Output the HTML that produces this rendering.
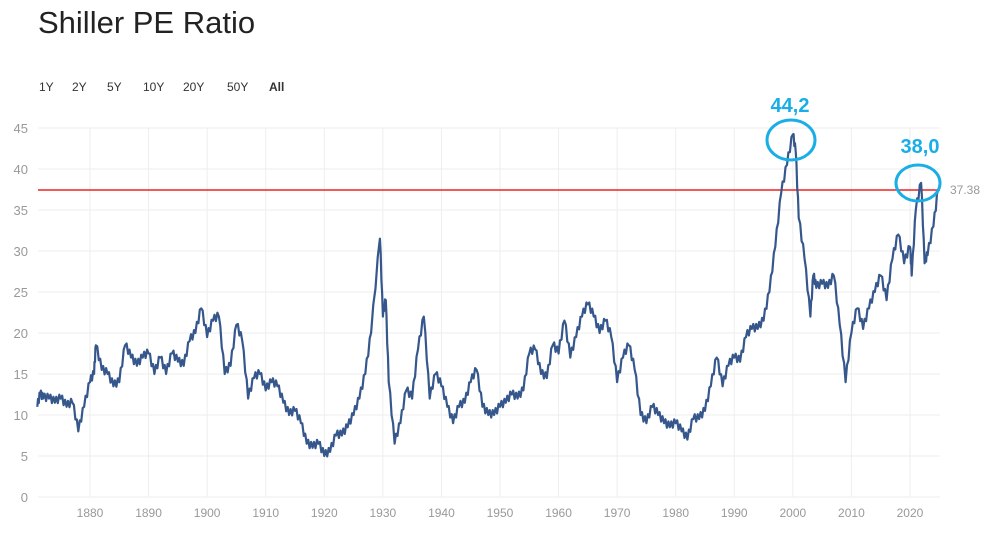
<!DOCTYPE html>
<html><head><meta charset="utf-8">
<style>
body{margin:0;background:#fff;width:1000px;height:539px;overflow:hidden;font-family:"Liberation Sans",sans-serif}
</style></head><body>
<svg id="s" width="1000" height="539" xmlns="http://www.w3.org/2000/svg" font-family="Liberation Sans, sans-serif">
<text x="38" y="33" font-size="31" fill="#222">Shiller PE Ratio</text>
<g font-size="12" fill="#333">
<text x="39" y="91">1Y</text><text x="72" y="91">2Y</text><text x="107" y="91">5Y</text>
<text x="143" y="91">10Y</text><text x="183" y="91">20Y</text><text x="227" y="91">50Y</text>
<text x="269" y="91" font-weight="bold">All</text></g>
<g id="grid" stroke="#eeeeee" stroke-width="1"></g>
<g id="yl" font-size="13" fill="#999" text-anchor="end"></g>
<g id="xl" font-size="12" fill="#999" text-anchor="middle"></g>
<line x1="38" y1="190" x2="940" y2="190" stroke="#ee2222" stroke-width="1.5"/>
<polyline id="pl" fill="none" stroke="#36578c" stroke-width="2.2" stroke-linejoin="round"/>
<text x="950" y="194" font-size="12" fill="#999">37.38</text>
<ellipse cx="791" cy="140" rx="24" ry="20" fill="none" stroke="#19aee6" stroke-width="3"/>
<ellipse cx="918" cy="183" rx="22" ry="18" fill="none" stroke="#19aee6" stroke-width="3"/>
<text x="790" y="112" font-size="20" font-weight="bold" fill="#19aee6" text-anchor="middle">44,2</text>
<text x="920" y="153" font-size="20" font-weight="bold" fill="#19aee6" text-anchor="middle">38,0</text>
</svg>
<script>
var X=function(y){return 90+(y-1880)*5.857},Y=function(v){return 497-v*8.2};
var g=document.getElementById('grid'),yl=document.getElementById('yl'),xl=document.getElementById('xl'),ns='http://www.w3.org/2000/svg';
for(var v=0;v<=45;v+=5){var l=document.createElementNS(ns,'line');l.setAttribute('x1',38);l.setAttribute('x2',940);l.setAttribute('y1',Y(v));l.setAttribute('y2',Y(v));g.appendChild(l);
var t=document.createElementNS(ns,'text');t.setAttribute('x',28);t.setAttribute('y',Y(v)+5);t.textContent=v;yl.appendChild(t);}
for(var y=1880;y<=2020;y+=10){var l=document.createElementNS(ns,'line');l.setAttribute('x1',X(y));l.setAttribute('x2',X(y));l.setAttribute('y1',Y(45));l.setAttribute('y2',Y(0));g.appendChild(l);
var t=document.createElementNS(ns,'text');t.setAttribute('x',X(y));t.setAttribute('y',517);t.textContent=y;xl.appendChild(t);}
var d=[1871,11,1871.5,12.5,1872,12,1873,12,1874,11.5,1875,12,1876,11,1877,11.5,1878,8,1879,11,1880,14,1880.7,15,1881,18.5,1882,15.5,1883,15,1884,13.5,1885,14,1886,18.5,1887,17,1888,16,1889,17,1890,17.5,1891,15,1892,17,1893,15,1894,17.5,1895,16.5,1896,16,1897,19,1898,20,1899,23,1900,19.5,1901,21.5,1902,22,1903,15,1904,16,1905,21,1906,19,1907,12,1908,14.5,1909,15,1910,13,1911,14,1912,13.5,1913,11.5,1914,10,1915,10.5,1916,9,1917,6.5,1918,6,1919,6.5,1920,5,1921,5.5,1922,7.5,1923,7.5,1924,8.5,1925,10,1926,12,1927,15,1928,20,1929.5,31.5,1930,22,1930.5,24,1931,14,1932,6.5,1933,9,1934,13,1935,12,1936,18,1937,22,1938,12,1939,15,1940,13.5,1941,11,1942,9,1943,11,1944,11.5,1945,14,1946,15.5,1947,11,1948,10,1949,10,1950,11,1951,11.5,1952,12.5,1953,12,1954,13,1955,17.5,1956,18,1957,15,1958,14.5,1959,18.5,1960,17.5,1961,21.5,1962,17,1963,19.5,1964,22,1965,23.5,1966,22,1967,20,1968,21.5,1969,19.5,1970,14,1971,17,1972,18.5,1973,15.5,1974,10,1975,9,1976,11,1977,10,1978,9,1979,8.5,1980,9,1981,8,1982,7,1983,9.5,1984,9.5,1985,10.5,1986,13.5,1987,17,1988,13.5,1989,16,1990,17,1991,16.5,1992,19.5,1993,20.5,1994,20.5,1995,21.5,1996,25,1997,30.5,1998,37,1999,40.5,2000,44.2,2000.5,42,2001,34,2002,29,2003,22,2003.5,27,2004,25.5,2005,26,2006,25.5,2007,27,2008,21,2009,14,2010,20,2011,23,2012,20.5,2013,23,2014,25,2015,27,2016,24,2017,29,2018,32,2019,28.5,2020,30.5,2020.3,27,2021,35,2021.9,38.3,2022.5,28.5,2023,29.5,2024,33,2024.8,37.4];
var p=[];for(var i=0;i<d.length-2;i+=2){var y0=d[i],v0=d[i+1],y1=d[i+2],v1=d[i+3];for(var k=0;k<4;k++){var f=k/4,v=v0+(v1-v0)*f+((k%2)?0.6:-0.3)*(k>0?1:0);p.push(X(y0+(y1-y0)*f).toFixed(1)+','+Y(v).toFixed(1));}}
p.push(X(2024.8)+','+Y(37.4));
document.getElementById('pl').setAttribute('points',p.join(' '));
</script>
</body></html>
